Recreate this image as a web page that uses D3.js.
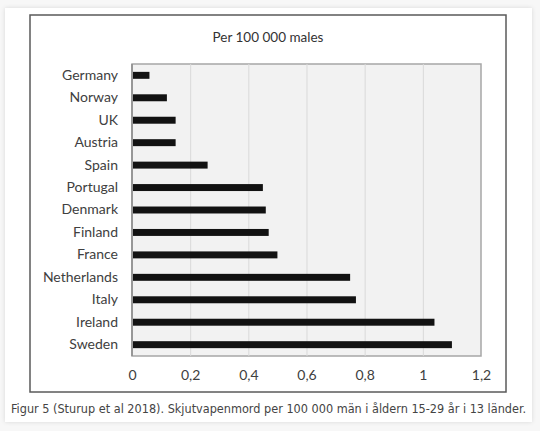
<!DOCTYPE html>
<html>
<head>
<meta charset="utf-8">
<script src="https://cdn.jsdelivr.net/npm/d3@7"></script>
<style>
  html, body { margin: 0; padding: 0; background: #f7f7f7; }
  svg { display: block; }
</style>
</head>
<body>
<div id="chart"></div>
<script>
// Values (per 100 000 males)
const countries = ['Germany', 'Norway', 'UK', 'Austria', 'Spain', 'Portugal', 'Denmark',
    'Finland', 'France', 'Netherlands', 'Italy', 'Ireland', 'Sweden'];
const rates = [0.06, 0.12, 0.15, 0.15, 0.26, 0.45, 0.46, 0.47, 0.50, 0.75, 0.77, 1.04, 1.10];
const xTicks = [0, 0.2, 0.4, 0.6, 0.8, 1, 1.2];
const chartTitle = 'Per 100 000 males';
const caption = 'Figur 5 (Sturup et al 2018). Skjutvapenmord per 100 000 män i åldern 15-29 år i 13 länder.';

const W = 540, H = 431;
const plot = { left: 132, top: 64, right: 481, bottom: 356 };

const svg = d3.select('#chart').append('svg')
    .attr('width', W)
    .attr('height', H);

// Card with faint shadow
const defs = svg.append('defs');
const f = defs.append('filter').attr('id', 'shadow').attr('x', '-5%').attr('y', '-5%')
    .attr('width', '110%').attr('height', '110%');
f.append('feDropShadow').attr('dx', 0).attr('dy', 0).attr('stdDeviation', 2)
    .attr('flood-color', '#000').attr('flood-opacity', 0.12);

svg.append('rect')
    .attr('x', 5).attr('y', 8).attr('width', 527).attr('height', 414)
    .attr('fill', '#fff')
    .attr('filter', 'url(#shadow)');

// Chart frame
svg.append('rect')
    .attr('x', 30).attr('y', 15).attr('width', 476).attr('height', 377)
    .attr('fill', '#fff')
    .attr('stroke', '#5a5a5a')
    .attr('stroke-width', 1.5);

// Title
svg.append('text')
    .attr('x', 268).attr('y', 42)
    .attr('text-anchor', 'middle')
    .attr('fill', '#333')
    .style('font-family', 'Lato, "Open Sans", sans-serif')
    .style('font-size', '13.5px')
    .text(chartTitle);

// Scales
const x = d3.scaleLinear()
    .domain([0, 1.2])
    .range([plot.left, plot.right]);

const y = d3.scaleBand()
    .domain(countries)
    .range([plot.top, plot.bottom])
    .paddingInner(0.69)
    .paddingOuter(0.35);

// Plot background
svg.append('rect')
    .attr('x', plot.left).attr('y', plot.top)
    .attr('width', plot.right - plot.left)
    .attr('height', plot.bottom - plot.top)
    .attr('fill', '#f2f2f2')
    .attr('stroke', '#a6a6a6')
    .attr('stroke-width', 1.5);

// Vertical grid lines
svg.append('g')
    .attr('transform', `translate(0,${plot.bottom})`)
    .call(d3.axisBottom(x).tickValues(xTicks.slice(1, -1)).tickSize(-(plot.bottom - plot.top)).tickFormat(''))
    .call(g => g.select('.domain').remove())
    .selectAll('line')
    .attr('stroke', '#d9d9d9')
    .attr('stroke-width', 1);

// Left axis line
svg.append('line')
    .attr('x1', plot.left).attr('x2', plot.left)
    .attr('y1', plot.top).attr('y2', plot.bottom)
    .attr('stroke', '#8c8c8c')
    .attr('stroke-width', 1.5);

// Bars
svg.append('g')
    .selectAll('rect')
    .data(countries)
    .join('rect')
    .attr('x', x(0) + 1)
    .attr('y', d => y(d))
    .attr('width', (d, i) => x(rates[i]) - x(0) - 1)
    .attr('height', y.bandwidth())
    .attr('fill', '#121212');

// Category labels
svg.append('g')
    .attr('transform', `translate(${plot.left},0)`)
    .call(d3.axisLeft(y).tickSize(0).tickPadding(14))
    .call(g => g.select('.domain').remove())
    .selectAll('text')
    .attr('fill', '#404040')
    .style('font-family', 'Lato, "Open Sans", sans-serif')
    .style('font-size', '14px');

// X tick labels
svg.append('g')
    .attr('transform', `translate(0,${plot.bottom})`)
    .call(d3.axisBottom(x).tickValues(xTicks).tickSize(0).tickPadding(14)
        .tickFormat(d => String(d).replace('.', ',')))
    .call(g => g.select('.domain').remove())
    .selectAll('text')
    .attr('fill', '#404040')
    .style('font-family', 'Lato, "Open Sans", sans-serif')
    .style('font-size', '14px');

// Caption
svg.append('text')
    .attr('x', 11).attr('y', 413)
    .attr('fill', '#444')
    .attr('textLength', 515)
    .attr('lengthAdjust', 'spacingAndGlyphs')
    .style('font-family', '"DejaVu Sans Condensed", "DejaVu Sans", sans-serif')
    .style('font-size', '12px')
    .text(caption);
</script>
</body>
</html>
